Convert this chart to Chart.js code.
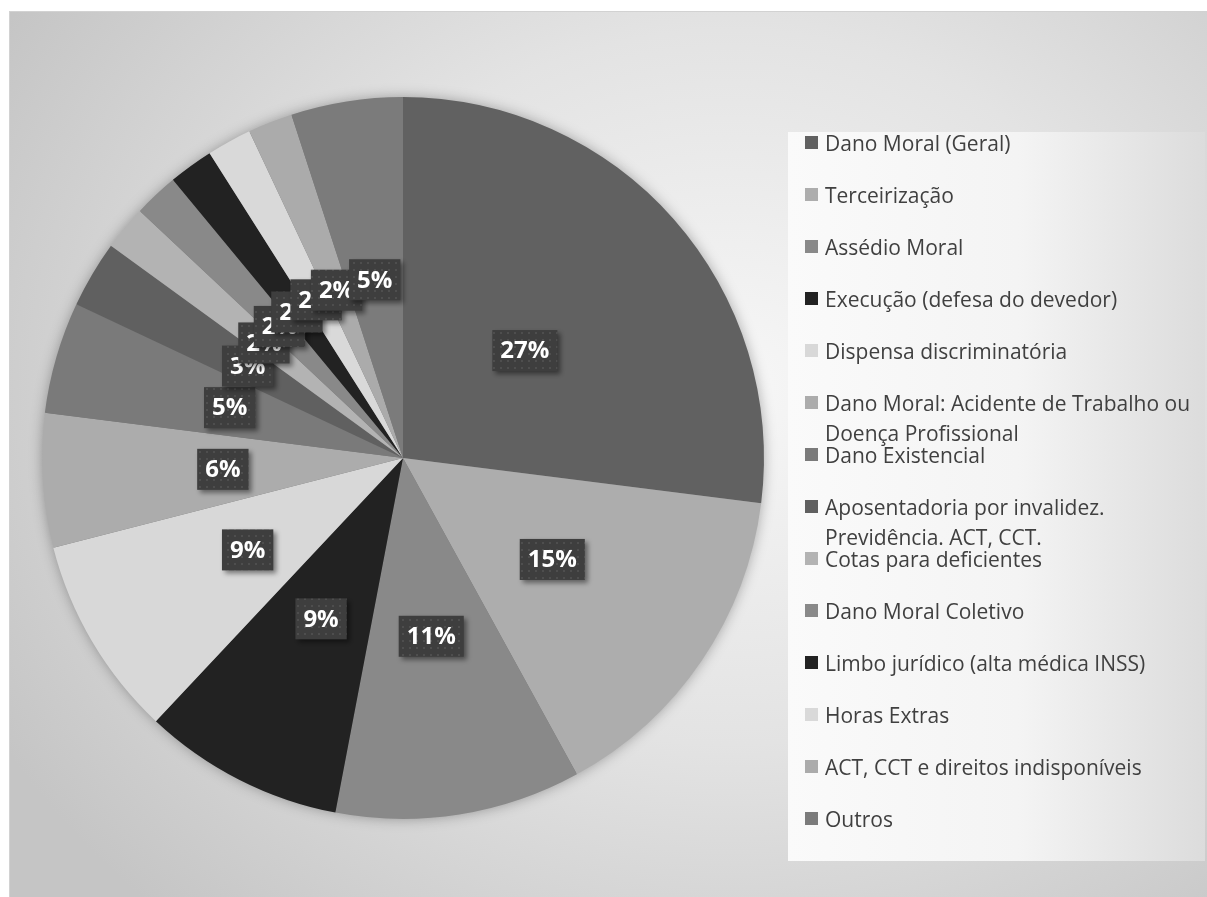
<!DOCTYPE html>
<html>
<head>
<meta charset="utf-8">
<script src="https://cdn.jsdelivr.net/npm/chart.js@4/dist/chart.umd.min.js"></script>
<style>
  html, body { margin: 0; padding: 0; background: #fff; }
  body { width: 1207px; height: 897px; position: relative; overflow: hidden; font-family: "Open Sans", sans-serif; }
  #frame {
    position: absolute; left: 9px; top: 11px; width: 1200px; height: 895px;
    border: 1px solid #d2d2d2; box-sizing: border-box;
    background: radial-gradient(ellipse 70% 80% at 60% 42%, #f7f7f7 0%, #e3e3e3 50%, #c5c5c5 100%);
  }
  #pieWrap { position: absolute; left: 0; top: 0; width: 806px; height: 897px; }
  #legendBox {
    position: absolute; left: 788px; top: 132px; width: 417px; height: 729px;
    background: linear-gradient(to right, #fafafa 0%, #f4f4f4 55%, #dcdcdc 100%);
  }
  #legend { position: absolute; left: 805px; top: 128px; margin: 0; padding: 0; list-style: none; }
  #legend li { height: 52px; position: relative; padding-left: 20px; font-size: 21px; line-height: 30px; color: #404040; white-space: nowrap; }
  #legend li span.sw { position: absolute; left: 0; top: 8px; width: 13px; height: 13px; }
</style>
</head>
<body>
<div id="frame"></div>
<div id="legendBox"></div>
<div id="pieWrap"><canvas id="pieChart"></canvas></div>
<ul id="legend"></ul>
<script>
// categories (legend order = slice order, clockwise from 12 o'clock)
const categories = [
    'Dano Moral (Geral)',
    'Terceirização',
    'Assédio Moral',
    'Execução (defesa do devedor)',
    'Dispensa discriminatória',
    ['Dano Moral: Acidente de Trabalho ou', 'Doença Profissional'],
    'Dano Existencial',
    ['Aposentadoria por invalidez.', 'Previdência. ACT, CCT.'],
    'Cotas para deficientes',
    'Dano Moral Coletivo',
    'Limbo jurídico (alta médica INSS)',
    'Horas Extras',
    'ACT, CCT e direitos indisponíveis',
    'Outros'
];
const shares = [27, 15, 11, 9, 9, 6, 5, 3, 2, 2, 2, 2, 2, 5];
const sliceColors = ['#616161', '#adadad', '#898989', '#222222', '#d8d8d8', '#acacac', '#7a7a7a',
                     '#606060', '#b3b3b3', '#898989', '#222222', '#d9d9d9', '#ababab', '#7b7b7b'];

// dotted dark fill used by Excel-style data label boxes
function makeDotPattern(ctx) {
    const c = document.createElement('canvas');
    c.width = 7; c.height = 7;
    const p = c.getContext('2d');
    p.fillStyle = '#3e3e3e';
    p.fillRect(0, 0, 7, 7);
    p.fillStyle = '#4e4e4e';
    p.fillRect(3, 3, 2, 2);
    return ctx.createPattern(c, 'repeat');
}

// soft shadow behind the pie
const pieShadow = {
    id: 'pieShadow',
    beforeDatasetsDraw(chart) {
        const arc = chart.getDatasetMeta(0).data[0];
        if (!arc) return;
        const ctx = chart.ctx;
        ctx.save();
        ctx.shadowColor = 'rgba(0,0,0,0.35)';
        ctx.shadowBlur = 14;
        ctx.beginPath();
        ctx.arc(arc.x, arc.y, arc.outerRadius - 1, 0, Math.PI * 2);
        ctx.fillStyle = '#777';
        ctx.fill();
        ctx.restore();
    }
};

// percentage labels in dark boxes
const boxLabels = {
    id: 'boxLabels',
    afterDatasetsDraw(chart) {
        const ctx = chart.ctx;
        const pattern = makeDotPattern(ctx);
        const meta = chart.getDatasetMeta(0);
        ctx.save();
        ctx.font = 'bold 24px "Open Sans", sans-serif';
        ctx.textAlign = 'center';
        ctx.textBaseline = 'middle';
        meta.data.forEach((arc, i) => {
            const mid = (arc.startAngle + arc.endAngle) / 2;
            const r = arc.outerRadius * (shares[i] > 20 ? 0.45 : 0.5);
            const x = arc.x + Math.cos(mid) * r;
            const y = arc.y + Math.sin(mid) * r;
            const txt = shares[i] + '%';
            const w = ctx.measureText(txt).width + 16;
            const h = 41;
            ctx.save();
            ctx.shadowColor = 'rgba(0,0,0,0.45)';
            ctx.shadowBlur = 5;
            ctx.shadowOffsetX = 3;
            ctx.shadowOffsetY = 3;
            ctx.fillStyle = pattern;
            ctx.fillRect(x - w / 2, y - h / 2, w, h);
            ctx.restore();
            ctx.fillStyle = '#ffffff';
            ctx.fillText(txt, x, y + 1);
        });
        ctx.restore();
    }
};

new Chart(document.getElementById('pieChart'), {
    type: 'pie',
    data: {
        labels: categories,
        datasets: [{
            data: shares,
            backgroundColor: sliceColors,
            borderWidth: 0
        }]
    },
    options: {
        responsive: true,
        maintainAspectRatio: false,
        animation: false,
        layout: { padding: { top: 97, bottom: 78, left: 42, right: 42 } },
        plugins: { legend: { display: false }, tooltip: { enabled: false } }
    },
    plugins: [pieShadow, boxLabels]
});

// legend
const legendEl = document.getElementById('legend');
categories.forEach((c, i) => {
    const li = document.createElement('li');
    const sw = document.createElement('span');
    sw.className = 'sw';
    sw.style.background = sliceColors[i];
    li.appendChild(sw);
    const lines = Array.isArray(c) ? c : [c];
    lines.forEach((ln, k) => {
        if (k > 0) li.appendChild(document.createElement('br'));
        li.appendChild(document.createTextNode(ln));
    });
    legendEl.appendChild(li);
});
</script>
</body>
</html>
